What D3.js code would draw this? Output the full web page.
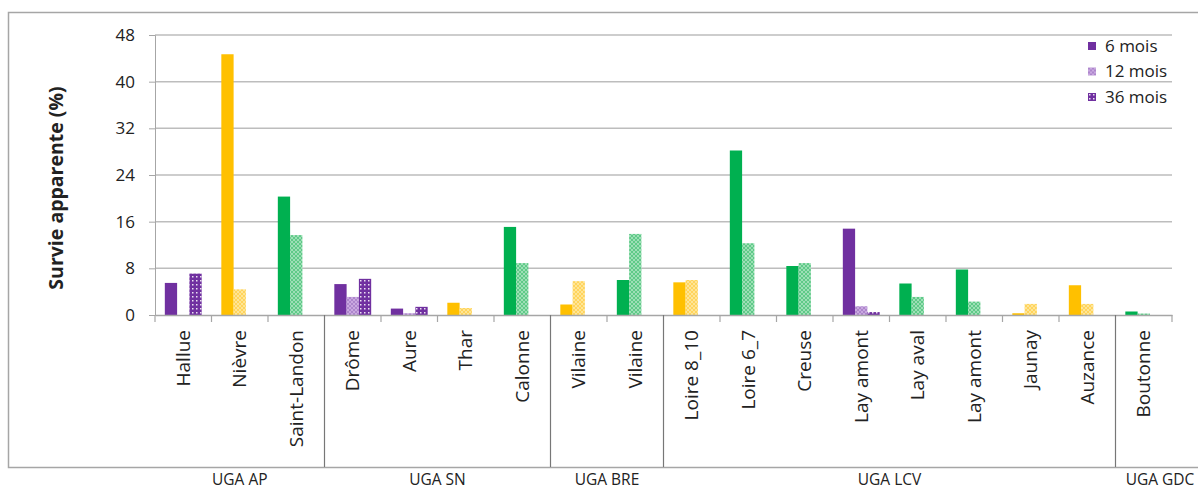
<!DOCTYPE html>
<html>
<head>
<meta charset="utf-8">
<script src="https://cdn.jsdelivr.net/npm/d3@7"></script>
<style>
  body { margin: 0; background: #fff; }
  text { font-family: "Open Sans", sans-serif; fill: #222; }
</style>
</head>
<body>
<div id="chart"></div>
<script>
// data
var categories = ["Hallue", "Nièvre", "Saint-Landon", "Drôme", "Aure", "Thar", "Calonne",
  "Vilaine", "Vilaine", "Loire 8_10", "Loire 6_7", "Creuse", "Lay amont", "Lay aval",
  "Lay amont", "Jaunay", "Auzance", "Boutonne"];
var colorKeys = ["purple", "yellow", "green", "purple", "purple", "yellow", "green",
  "yellow", "green", "yellow", "green", "green", "purple", "green",
  "green", "yellow", "yellow", "green"];
var mois6  = [5.5, 44.7, 20.3, 5.3, 1.1, 2.1, 15.1, 1.8, 6.0, 5.6, 28.2, 8.4, 14.8, 5.4, 7.8, 0.3, 5.1, 0.6];
var mois12 = [null, 4.4, 13.7, 3.1, 0.3, 1.2, 8.9, 5.8, 13.9, 6.0, 12.3, 8.9, 1.5, 3.1, 2.3, 1.9, 1.9, 0.25];
var mois36 = [7.1, null, null, 6.2, 1.4, null, null, null, null, null, null, null, 0.5, null, null, null, null, null];
var seriesNames = ["6 mois", "12 mois", "36 mois"];
var groupNames = ["UGA AP", "UGA SN", "UGA BRE", "UGA LCV", "UGA GDC"];
var groupSizes = [3, 4, 2, 8, 1];
var yTicks = [0, 8, 16, 24, 32, 40, 48];

var svgWidth = 1198;
var svgHeight = 489;

var margin = { top: 35, right: 26, bottom: 174, left: 155 };
var width = svgWidth - margin.left - margin.right;
var height = svgHeight - margin.top - margin.bottom;

var palette = {
  purple: { base: "#7030a0", light: "#c9a8e0", check: "#ad86cc" },
  yellow: { base: "#ffc000", light: "#ffe596", check: "#ffd45c" },
  green:  { base: "#00b050", light: "#9ddfb6", check: "#5fca88" }
};

var svg = d3.select("#chart")
  .append("svg")
  .attr("width", svgWidth)
  .attr("height", svgHeight);

// patterns for the 12 and 36 months bars
var defs = svg.append("defs");
Object.keys(palette).forEach(function(k) {
  var c = palette[k];
  var p1 = defs.append("pattern")
    .attr("id", "check-" + k)
    .attr("patternUnits", "userSpaceOnUse")
    .attr("width", 4).attr("height", 4);
  p1.append("rect").attr("width", 4).attr("height", 4).attr("fill", c.light);
  p1.append("rect").attr("width", 2).attr("height", 2).attr("fill", c.check);
  p1.append("rect").attr("x", 2).attr("y", 2).attr("width", 2).attr("height", 2).attr("fill", c.check);

  var p2 = defs.append("pattern")
    .attr("id", "dots-" + k)
    .attr("patternUnits", "userSpaceOnUse")
    .attr("width", 4).attr("height", 4);
  p2.append("rect").attr("width", 4).attr("height", 4).attr("fill", c.base);
  p2.append("rect").attr("x", 1).attr("y", 1).attr("width", 1.5).attr("height", 1.5)
    .attr("fill", "#fff").attr("opacity", 0.85);
});

// outer frame
svg.append("path")
  .attr("d", "M1198,12.5H8.5V467.5H1198")
  .attr("fill", "none")
  .attr("stroke", "#a6a6a6")
  .attr("stroke-width", 1.5);

var chartGroup = svg.append("g")
  .attr("transform", `translate(${margin.left}, ${margin.top})`);

var xScale = d3.scaleBand()
  .domain(d3.range(categories.length))
  .range([0, width]);

var xSub = d3.scaleBand()
  .domain(seriesNames)
  .range([0, xScale.bandwidth()])
  .paddingOuter(0.8);

var yScale = d3.scaleLinear()
  .domain([0, 48])
  .range([height, 0]);

// gridlines
chartGroup.selectAll(".grid")
  .data(yTicks.slice(1))
  .enter()
  .append("line")
  .attr("x1", 0)
  .attr("x2", width)
  .attr("y1", d => yScale(d))
  .attr("y2", d => yScale(d))
  .attr("stroke", "#bdbdbd")
  .attr("stroke-width", 1.5);

// y axis
var leftAxis = d3.axisLeft(yScale).tickValues(yTicks).tickSize(6).tickPadding(14);
var yAxisG = chartGroup.append("g").call(leftAxis);
yAxisG.select(".domain").attr("stroke", "#a6a6a6");
yAxisG.selectAll(".tick line").attr("stroke", "#a6a6a6");
yAxisG.selectAll("text")
  .attr("font-size", "17px")
  .attr("fill", "#333")
  .style("font-family", "Open Sans, sans-serif");

// bars
var seriesData = [mois6, mois12, mois36];
var rows = [];
categories.forEach(function(c, i) {
  seriesData.forEach(function(s, j) {
    if (s[i] !== null) rows.push({ i: i, series: seriesNames[j], j: j, value: s[i], color: colorKeys[i] });
  });
});

chartGroup.selectAll(".bar")
  .data(rows)
  .enter()
  .append("rect")
  .attr("class", "bar")
  .attr("x", d => xScale(d.i) + xSub(d.series))
  .attr("width", xSub.bandwidth())
  .attr("y", d => yScale(d.value))
  .attr("height", d => height - yScale(d.value))
  .attr("fill", function(d) {
    if (d.j === 0) return palette[d.color].base;
    if (d.j === 1) return "url(#check-" + d.color + ")";
    return "url(#dots-" + d.color + ")";
  });

// x axis with category labels
var bottomAxis = d3.axisBottom(xScale).tickSize(0).tickFormat(i => categories[i]);
var xAxisG = chartGroup.append("g")
  .attr("transform", `translate(0, ${height})`)
  .call(bottomAxis);
xAxisG.select(".domain").attr("stroke", "#a6a6a6").attr("stroke-width", 1.5);
xAxisG.selectAll("text")
  .attr("transform", "rotate(-90)")
  .attr("text-anchor", "end")
  .attr("x", -15)
  .attr("y", 0)
  .attr("dy", "0.35em")
  .attr("font-size", "19px")
  .attr("fill", "#222")
  .style("font-family", "Open Sans, sans-serif");

// boundary ticks and group separators
var bounds = d3.range(categories.length + 1);
var groupEnds = d3.cumsum(groupSizes);
function isSep(d) {
  return d > 0 && d < categories.length && groupEnds.indexOf(d) >= 0;
}
chartGroup.selectAll(".btick")
  .data(bounds)
  .enter()
  .append("line")
  .attr("x1", d => d === categories.length ? width : xScale(d))
  .attr("x2", d => d === categories.length ? width : xScale(d))
  .attr("y1", height)
  .attr("y2", d => isSep(d) ? 467 - margin.top : height + 7)
  .attr("stroke", d => isSep(d) ? "#777" : "#a6a6a6")
  .attr("stroke-width", 1.2);

// group labels
var groupStarts = [0].concat(Array.from(groupEnds).slice(0, -1));
chartGroup.selectAll(".glabel")
  .data(groupNames)
  .enter()
  .append("text")
  .attr("x", function(d, k) {
    if (k === groupNames.length - 1) return 1160 - margin.left;
    return (xScale(groupStarts[k]) + xScale(groupEnds[k] - 1) + xScale.bandwidth()) / 2;
  })
  .attr("y", 485 - margin.top)
  .attr("text-anchor", "middle")
  .attr("font-size", "15.5px")
  .attr("fill", "#222")
  .text(d => d);

// y axis title
chartGroup.append("text")
  .attr("transform", "rotate(-90)")
  .attr("x", 0 - 153)
  .attr("y", 0 - margin.left + 56)
  .attr("text-anchor", "middle")
  .attr("dy", "0.35em")
  .attr("font-size", "19.5px")
  .attr("font-weight", "bold")
  .attr("fill", "#222")
  .text("Survie apparente (%)");

// legend
var legendFills = ["#7030a0", "url(#check-purple)", "url(#dots-purple)"];
var legend = svg.append("g").attr("transform", "translate(1088, 46)");
var items = legend.selectAll(".leg")
  .data(seriesNames)
  .enter()
  .append("g")
  .attr("transform", (d, k) => `translate(0, ${k * 25.5})`);
items.append("rect")
  .attr("x", 0)
  .attr("y", -4)
  .attr("width", 8)
  .attr("height", 8)
  .attr("fill", (d, k) => legendFills[k]);
items.append("text")
  .attr("x", 17)
  .attr("dy", "0.35em")
  .attr("font-size", "17px")
  .attr("fill", "#222")
  .text(d => d);
</script>
</body>
</html>
